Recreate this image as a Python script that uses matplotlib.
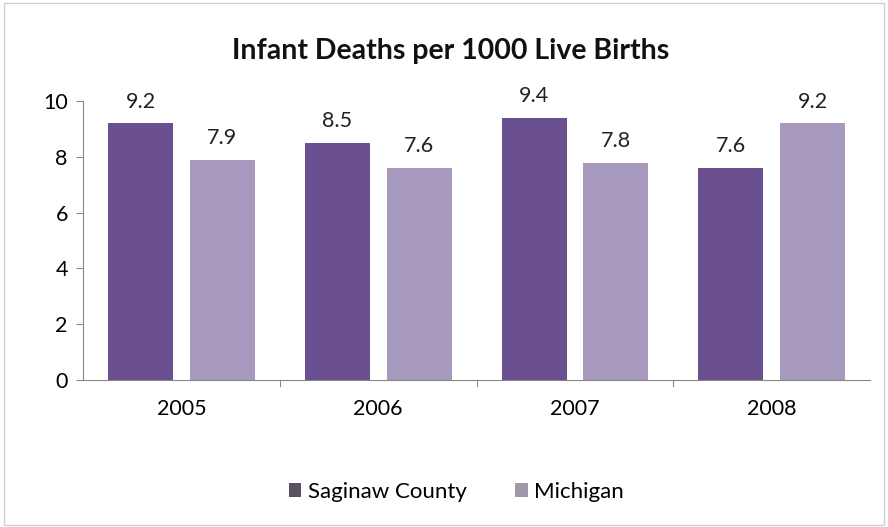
import matplotlib
matplotlib.use("Agg")
import matplotlib.pyplot as plt
import numpy as np

plt.rcParams['font.family'] = ['Lato', 'DejaVu Sans']

years = ["2005", "2006", "2007", "2008"]
saginaw = [9.2, 8.5, 9.4, 7.6]
michigan = [7.9, 7.6, 7.8, 9.2]
yticks = [0, 2, 4, 6, 8, 10]

dark = "#6a5090"
light = "#a89abf"

fig = plt.figure(figsize=(8.88, 5.27), dpi=100)
fig.patches.append(plt.Rectangle((0.004, 0.004), 0.992, 0.99, transform=fig.transFigure,
                                 fill=False, edgecolor="#d0d0d0", linewidth=1))
ax = fig.add_axes([0.0935, 0.279, 0.8865, 0.529])

x = np.arange(len(years))
w = 0.33
off = 0.208
b1 = ax.bar(x - off, saginaw, w, color=dark, label="Saginaw County")
b2 = ax.bar(x + off, michigan, w, color=light, label="Michigan")

for bars, vals in ((b1, saginaw), (b2, michigan)):
    for r, v in zip(bars, vals):
        ax.text(r.get_x() + r.get_width() / 2, v + 0.42, f"{v:.1f}",
                ha="center", va="bottom", fontsize=15.5, color="#222222")

ax.set_xlim(-0.5, len(years) - 0.5)
ax.set_ylim(0, 10)
ax.set_yticks(yticks)
ax.set_yticklabels([str(t) for t in yticks], fontsize=15.5)
ax.set_xticks(x)
ax.set_xticklabels(years, fontsize=15.5)
ax.tick_params(axis="x", length=0, pad=14)
ax.tick_params(axis="y", length=5, color="#888888", direction="out", pad=6)
for t in np.arange(0.5, len(years) - 0.5):
    ax.plot([t, t], [0, -0.2], color="#888888", lw=0.8, clip_on=False)
for s in ("top", "right"):
    ax.spines[s].set_visible(False)
ax.spines["left"].set_color("#888888")
ax.spines["bottom"].set_color("#888888")

fig.text(0.507, 0.903, "Infant Deaths per 1000 Live Births", ha="center", va="center",
         fontsize=20.5, fontweight="bold", color="#111111")

leg = fig.legend(handles=[b1, b2], loc="center", bbox_to_anchor=(0.514, 0.067), ncol=2,
                 frameon=False, fontsize=16, handlelength=0.55, handleheight=0.55,
                 handletextpad=0.3, columnspacing=2.2)
leg.legend_handles[0].set_facecolor("#5a5060")
leg.legend_handles[1].set_facecolor("#9e98a8")

fig.savefig("out.png", dpi=100, facecolor="white")
